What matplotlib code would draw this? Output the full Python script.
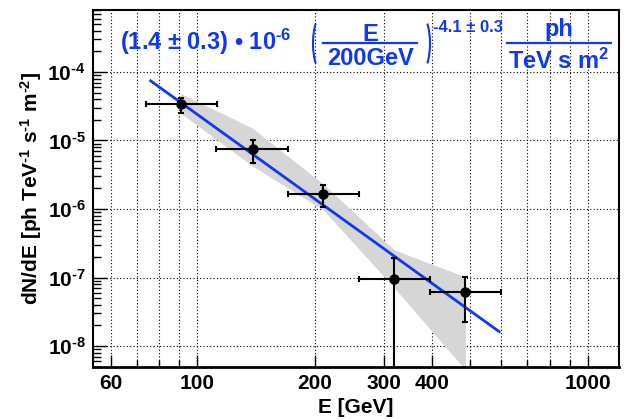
import matplotlib
matplotlib.use("Agg")
import matplotlib.pyplot as plt
import numpy as np
from matplotlib.patches import Arc
from matplotlib.ticker import FixedLocator, FuncFormatter, NullFormatter

plt.rcParams['font.family'] = ['Liberation Sans', 'DejaVu Sans']
plt.rcParams['font.weight'] = 'bold'
plt.rcParams['mathtext.fontset'] = 'custom'
plt.rcParams['mathtext.rm'] = 'Liberation Sans:bold'
plt.rcParams['mathtext.bf'] = 'Liberation Sans:bold'
plt.rcParams['mathtext.it'] = 'Liberation Sans:bold'
plt.rcParams['mathtext.sf'] = 'Liberation Sans:bold'

# spectral points [GeV], flux [ph TeV^-1 s^-1 m^-2]
energy = [90.8, 138.6, 210.3, 319.6, 486.0]
e_low = [73.8, 112.0, 170.5, 259.5, 394.6]
e_high = [112.3, 170.6, 259.5, 394.6, 600.0]
flux = [3.42e-5, 7.41e-6, 1.67e-6, 9.65e-8, 6.18e-8]
flux_low = [2.53e-5, 4.72e-6, 1.08e-6, 1e-9, 2.21e-8]
flux_high = [4.18e-5, 1.0e-5, 2.26e-6, 1.95e-7, 1.02e-7]

# systematic band
band_upper = [4.84e-5, 1.51e-5, 2.31e-6, 2.53e-7, 1.02e-7]
band_lower = [2.48e-5, 4.23e-6, 9.66e-7, 7.06e-8, 4.5e-9]

# power law fit
norm = 1.4e-6
e_ref = 200.0
index = -4.1
fit_range = [76.0, 593.0]

blue = '#1038f0'

fig = plt.figure(figsize=(6.32, 4.20), dpi=100)
ax = fig.add_axes([92.7 / 632, 1 - 366.7 / 420, 526 / 632, 356.7 / 420])
ax.set_xscale('log')
ax.set_yscale('log')
ax.set_xlim(54, 1200)
ax.set_ylim(5.0e-9, 8.0e-4)

ax.fill_between(energy, band_lower, band_upper, color='#d6d6d6', lw=0, zorder=1)

ef = np.logspace(np.log10(fit_range[0]), np.log10(fit_range[1]), 100)
ax.plot(ef, norm * (ef / e_ref) ** index, color=blue, lw=2, zorder=3)

e = np.array(energy)
f = np.array(flux)
xerr = [e - np.array(e_low), np.array(e_high) - e]
yerr = [f - np.array(flux_low), np.array(flux_high) - f]
ax.errorbar(e, f, xerr=xerr, yerr=yerr, fmt='o', color='black', ms=6.5,
            elinewidth=1.5, capsize=2.5, capthick=1.5, zorder=4)

# grid
xgrid = [60, 70, 80, 90, 100, 200, 300, 400, 500, 600, 700, 800, 900, 1000]
for xv in xgrid:
    ax.axvline(xv, color='black', lw=0.8, ls=(0, (1, 2)), zorder=0.5)
for yv in [1e-8, 1e-7, 1e-6, 1e-5, 1e-4]:
    ax.axhline(yv, color='black', lw=0.8, ls=(0, (1, 2)), zorder=0.5)

# ticks
ax.xaxis.set_major_locator(FixedLocator([60, 100, 200, 300, 400, 1000]))
ax.xaxis.set_major_formatter(FuncFormatter(lambda v, p: '%d' % v))
ax.xaxis.set_minor_locator(FixedLocator([70, 80, 90, 500, 600, 700, 800, 900]))
ax.xaxis.set_minor_formatter(NullFormatter())
ax.yaxis.set_major_locator(FixedLocator([1e-8, 1e-7, 1e-6, 1e-5, 1e-4]))
ax.yaxis.set_major_formatter(FuncFormatter(
    lambda v, p: r'$10^{\text{-%d}}$' % abs(round(np.log10(v)))))
ymin_ticks = [m * 10.0 ** k for k in range(-9, -3) for m in range(2, 10)]
ax.yaxis.set_minor_locator(FixedLocator(ymin_ticks))
ax.yaxis.set_minor_formatter(NullFormatter())
ax.tick_params(which='both', direction='in', top=False, right=False, width=1, labelsize=15)
ax.tick_params(axis='y', which='major', length=10, pad=5)
ax.tick_params(axis='y', which='minor', length=6)
ax.tick_params(axis='x', which='major', length=9, pad=5)
ax.tick_params(axis='x', which='minor', length=5)
for lab in ax.get_xticklabels() + ax.get_yticklabels():
    lab.set_fontweight('bold')
for sp in ax.spines.values():
    sp.set_linewidth(1.5)
ax.spines['bottom'].set_linewidth(2)

def px(x, y):
    return x / 632, 1 - y / 420

fig.text(*px(355.7, 413), 'E [GeV]', ha='center', va='baseline', fontsize=15, fontweight='bold')
fig.text(*px(31, 188), r'dN/dE [ph TeV$^{\text{-1}}$ s$^{\text{-1}}$ m$^{\text{-2}}$]', rotation=90,
         ha='center', va='center', fontsize=15, fontweight='bold')

# fitted formula
fig.text(*px(120, 50), r'(1.4 ± 0.3) • 10$^{\text{-6}}$', color=blue, fontsize=17,
         fontweight='bold', ha='left', va='baseline')
fig.add_artist(Arc((323, 420 - 43.5), 20, 58, theta1=110, theta2=250,
                   transform=None, color=blue, lw=1.5))
fig.add_artist(Arc((420, 420 - 43.5), 20, 58, theta1=-70, theta2=70,
                   transform=None, color=blue, lw=1.5))
fig.text(*px(370, 40.7), 'E', color=blue, fontsize=17, fontweight='bold',
         ha='center', va='baseline')
fig.add_artist(plt.Line2D([323 / 632, 417 / 632], [1 - 43.3 / 420] * 2, color=blue, lw=1.6))
fig.text(*px(370, 65), '200GeV', color=blue, fontsize=17, fontweight='bold',
         ha='center', va='baseline')
fig.text(*px(433, 31.5), '-4.1 ± 0.3', color=blue, fontsize=12, fontweight='bold',
         ha='left', va='baseline')
fig.text(*px(559, 36), 'ph', color=blue, fontsize=17, fontweight='bold',
         ha='center', va='baseline')
fig.add_artist(plt.Line2D([507 / 632, 611 / 632], [1 - 43.3 / 420] * 2, color=blue, lw=1.6))
fig.text(*px(559, 69), 'TeV s m$^{2}$', color=blue, fontsize=17, fontweight='bold',
         ha='center', va='baseline')

fig.savefig('out.png', dpi=100)
